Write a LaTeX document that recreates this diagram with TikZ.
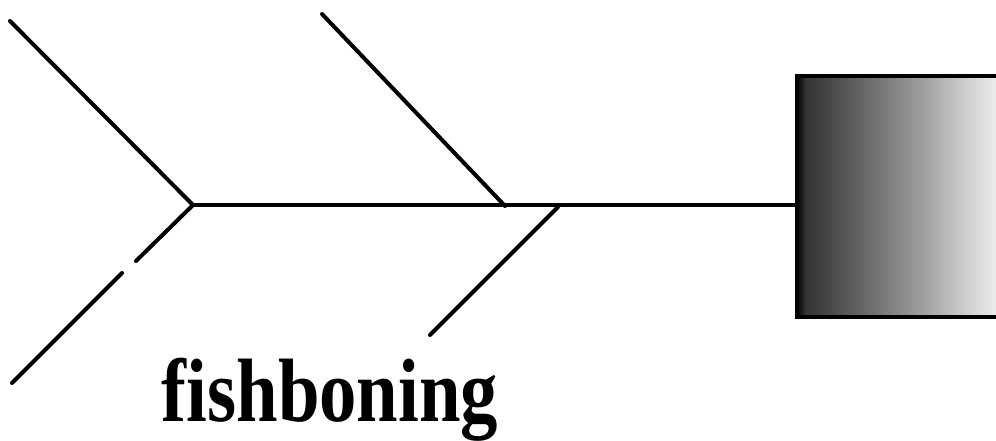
\documentclass[tikz,border=0pt]{standalone}
\usepackage{fontspec}
\setmainfont{Liberation Serif}
\usetikzlibrary{positioning, calc}
\pgfdeclarehorizontalshading{boxfade}{100bp}{color(0bp)=(black); color(25bp)=(black); color(27bp)=(black!80); color(40bp)=(black!62); color(55bp)=(black!40); color(68bp)=(black!18); color(75bp)=(black!8); color(100bp)=(black!8)}

\begin{document}
\begin{tikzpicture}[
    x=1pt, y=-1pt,
    bone/.style={line width=4pt, line cap=round},
    spine/.style={line width=3.5pt},
    effect/.style={minimum width=199pt, minimum height=241pt, inner sep=0pt, shading=boxfade, anchor=north west},
    caption/.style={font=\bfseries\fontsize{90}{90}\selectfont, inner sep=0pt, anchor=base}
]
    \useasboundingbox (0,0) rectangle (996,440);

    % Nodes
    \node[effect] (box) at (797,76) {};
    \coordinate (j1) at (193,205);
    \coordinate (j2) at (505,206);
    \coordinate (j3) at (558,207);
    \coordinate (ul) at (10,21);
    \coordinate (lla) at (136,261);
    \coordinate (llb) at (122,273);
    \coordinate (ll) at (12,383);
    \coordinate (um) at (322,14);
    \coordinate (lm) at (430,335);
    \node[caption] (label) at (330,421) {\scalebox{0.83}[1]{fishboning}};

    % Connections
    \draw[line width=4pt] (box.north east) -- (box.north west) -- (box.south west) -- (box.south east);
    \draw[spine] (j1) -- (j1 -| box.west);
    \draw[bone] (ul) -- (j1);
    \draw[bone] (j1) -- (lla);
    \draw[bone] (llb) -- (ll);
    \draw[bone] (um) -- (j2);
    \draw[bone] (j3) -- (lm);
\end{tikzpicture}
\end{document}
